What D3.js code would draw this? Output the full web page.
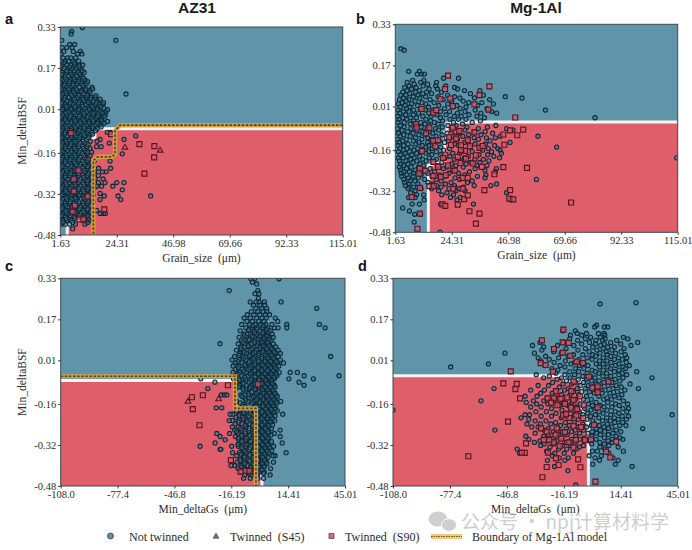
<!DOCTYPE html>
<html><head><meta charset="utf-8">
<script src="https://cdn.jsdelivr.net/npm/d3@7/dist/d3.min.js"></script>
<style>html,body{margin:0;padding:0;background:#fff}svg{display:block}</style></head>
<body><svg id="c" width="692" height="550"></svg>
<script>
const yTicks=[0.33,0.17,0.01,-0.16,-0.32,-0.48];
const yLabels=["0.33","0.17","0.01","-0.16","-0.32","-0.48"];
const grainTicks=[1.63,24.31,46.98,69.66,92.33,115.01];
const grainLabels=["1.63","24.31","46.98","69.66","92.33","115.01"];
const gsTicks=[-108,-77.4,-46.8,-16.19,14.41,45.01];
const gsLabels=["-108.0","-77.4","-46.8","-16.19","14.41","45.01"];
const legendLabels=["Not twinned","Twinned  (S45)","Twinned  (S90)","Boundary of Mg-1Al model"];

// red-region edges (first point to last point along the decision boundary)
const regionA=[[115.01,-.066],[15.5,-.066],[15.5,-.1],[10,-.11],[10,-.42],[4.4,-.44],[4.4,-.48]];
const regionB=[[115.01,-.05],[24.5,-.05],[22.4,-.055],[22.4,-.092],[21.4,-.092],[21.4,-.2],[14.9,-.22],[14.9,-.48]];
const regionC=[[-108,-.069],[-14,-.069],[-14,-.17],[-6,-.17],[-6,-.4],[.3,-.42],[.3,-.48]];
const regionD=[[-108,-.05],[-16,-.05],[-16,-.07],[-6.5,-.07],[-6.5,-.18],[-3,-.24],[-3,-.48]];
// Mg-1Al model boundary redrawn over the AZ31 panels
const boundaryA=[[115.01,-.052],[25.6,-.052],[23.6,-.075],[23.6,-.163],[22.4,-.176],[16.5,-.176],[14.9,-.19],[14.9,-.48]];
const boundaryC=[[-108,-.052],[-14.2,-.052],[-14.2,-.177],[-2.9,-.177],[-2.9,-.48]];

// not twinned: rows of [y, x...]
const circlesA=[
[.328,10.5],[.313,6.2],[.303,6],[.278,2.2,23.9],[.262,5.4,7.4],[.25,2.4,4.2,6.4],[.235,3,6.8,9.7],[.225,1.9,8.6,10.3],[.21,2.7,4.6,5.9,7.8],[.197,1.8,3.6,5,6.8,9],[.182,2.4,4.2,5.9,7.5,9.3,10.6],[.168,1.7,3.2,4.9,6.4,8.1,9.8],[.153,2.5,4.1,5.6,7.3,8.9,11.2],[.139,1.8,3.4,5,6.6,8.2,10],[.124,2.6,4.2,5.8,7.4,9.1,11.6],[.11,1.9,3.5,5.1,6.7,8.4,10,12.1],[.096,2.7,4.3,5.9,7.6,9.3,11,14.3],[.083,1.8,3.4,5,6.8,8.4,10.2,11.8,13.3],[.069,2.5,4.2,5.8,7.5,9.2,10.9,12.6,28],[.056,1.9,3.5,5.2,6.9,8.5,10.3,12,14,15.6],[.042,2.7,4.3,6,7.7,9.4,11.2,13,14.8,16.7],[.028,1.8,3.5,5.2,6.8,8.6,10.3,12.1,13.7,15.6,17.4,18.6],[.014,2.6,4.3,6,7.7,9.5,11.2,13,14.9,16.4,19.2],[.001,1.8,3.5,5.1,6.9,8.6,10.4,12.2,14,15.7,17.8,20],[-.012,2.7,4.4,6,7.8,9.5,11.3,13.1,14.8,16.8,18.7,19.7],[-.026,1.9,3.6,5.3,7,8.8,10.5,12.3,14.1,16,17.6],[-.038,2.6,4.3,6.1,7.8,9.6,11.4,13.2,14.9,16.9,18.5,20.6],[-.052,1.8,3.5,5.2,7,8.7,10.5,12.3,14,15.8,17.5],[-.066,2.6,4.4,6.1,7.9,9.6,11.4,13,14.9,16.4],[-.08,1.9,3.6,5.3,7.1,8.8,10.6,12.4,14.2,20.5,21.8],[-.094,2.7,4.4,6.2,7.9,9.7,11.5,13.3,31.9],[-.108,1.8,3.5,5.3,7,8.8,10.5,12.2,17.6,27.2],[-.122,2.6,4.3,6.1,7.8,9.6,11.4,21.3],[-.136,1.9,3.7,5.4,7.2,8.9,10.7,12.3,16.2,18],[-.15,2.7,4.4,6.2,8,9.7,11.5],[-.164,1.8,3.6,5.3,7.1,8.8,10.5,12.6,26.5],[-.178,2.6,4.3,6.1,7.9,9.6,11.4],[-.192,1.9,3.6,5.4,7.1,8.9,10.6,12.4,15.2,21.6],[-.206,2.7,4.5,6.2,8,9.8,11.5,13.2],[-.22,1.8,3.6,5.3,7.1,8.9,10.6,12.4,17,21.8],[-.234,2.6,4.4,6.1,7.9,9.7,11.4,13.3,15.4,20,18.6],[-.248,1.9,3.7,5.4,7.2,9,10.7,12.5,14.3,16.9],[-.262,2.7,4.5,6.2,8,9.8,11.5,13.3,15.6,18.8],[-.276,1.8,3.6,5.4,7.1,8.9,10.7,12.5,14.2,24.3,27.2,16.9,19.6],[-.29,2.6,4.4,6.2,7.9,9.7,11.5,13.2,16.2,18.2,22.7],[-.304,1.9,3.7,5.5,7.2,9,10.8,12.6,14.5,26.5],[-.318,2.7,4.5,6.3,8,9.8,11.6,13.4,17.6],[-.328,1.8,3.6,5.4,7.2,9,10.7,12.5,19.3,24.8,37.9],[-.342,2.7,4.4,6.2,8,9.8,11.6,13.3,17.6,25.9],[-.356,1.9,3.6,5.4,7.2,9,10.8,12.4],[-.37,2.7,4.5,6.3,8.1,9.9,11.7,13.4],[-.384,1.9,3.7,5.5,7.2,9,10.8,12.5,16.2],[-.396,2.6,4.4,6.2,8,9.8,11.6,13.3,17.6,18.9,19.7],[-.41,1.9,3.6,5.4,7.2,9,10.8,12.5],[-.424,2.5,4.3,6.1,12.2,13.4],[-.438,1.9,3.6,5.4,7.7,11.5],[-.456,6.6]];
// further not-twinned grains filling the dense cloud between the rows above
const circlesA2=[
[.19,3.1,7.3],[.175,1.9,5.4,9.1],[.16,4.2,7.2,10.4],[.146,2.2,6.1,9.4],[.131,3.6,7.1,10.9],[.117,1.7,5.4,8.9,12.6],[.103,3.2,6.8,10.7],[.089,2.1,5,8,11.9,14.6],[.076,3.9,7,10,13.6],[.063,1.9,6.2,9.1,12.4,15.9],[.049,3.3,7.2,10.8,13.9,17.6],[.035,2.2,5.6,9,12.9,16.2,19],[.021,4,7.4,10.6,14.4,17.9],[.008,2.5,6,9.1,13.2,16.6,20.6],[-.005,3.9,7.2,11,14.8,18.6],[-.019,2,5.6,9.3,12.7,16.6,19.4],[-.032,3.6,7.5,11,14.7,18.1],[-.045,2.4,6,9.6,13.1,16.6,19.2],[-.059,4,7.6,11.2,14.6,18],[-.073,2.1,5.7,9.3,12.9,15.8],[-.087,3.5,7.4,11.1,14.6],[-.101,2.3,6,9.4,12.9],[-.115,4,7.6,10.9,13.7,16.4],[-.129,2.2,5.8,9.2,12.8],[-.143,3.7,7.4,10.9,13.6],[-.157,2.4,6,9.2,12.6,14.2],[-.171,4,7.6,11,13.5],[-.185,2.1,5.6,9.1,12.9],[-.199,3.7,7.4,10.9,14.1],[-.213,2.4,6,9.4,12.7,14.6],[-.227,4.1,7.6,11.2,13.7],[-.241,2.1,5.8,9.1,13,15],[-.255,3.7,7.5,11,14.1],[-.269,2.3,6,9.4,12.6,14.8],[-.283,4,7.6,11,13.9],[-.297,2.2,5.6,9.1,12.8,15.2],[-.311,3.8,7.3,11,14],[-.324,2.3,6.1,9.3,12.9,14.9],[-.336,4,7.6,11,13.8],[-.35,2.1,5.7,9.2,12.9,14.8],[-.364,3.8,7.4,10.9,13.8],[-.378,2.4,6,9.4,12.6],[-.39,3.9,7.6,11,13.9],[-.404,2.2,5.7,9.3,12.7],[-.417,4,7.4,11,13],[-.431,2.7,6.6,12.6]];
const trianglesA=[[27.6,-.139],[41.7,-.151]];
const squaresA=[[33.4,-.126],[39.4,-.134],[39.3,-.178],[35.4,-.241],[22,-.087],[19.3,-.38],[5.9,-.083],[7,-.263],[7,-.31],[12.6,-.33],[7.5,-.365],[6.6,-.389],[9.3,-.419],[10.9,-.419],[8.9,-.229]];

const circlesB=[
[.235,3.9],[.229,5.2],[.147,7,11.3],[.136,10.5,12.2,13.3],[.12,27,21],[.112,8.6,13.1],[.104,6.4,11.8,18.2],[.097,9.2,14.6],[.09,7.2,12.8,17.9,21.9],[.084,5.4,10,25.4],[.078,8.1,15.2,18.5,26.6],[.072,6.3,11.3,35.6,29.4],[.066,4.6,9.8,14.2,20.2],[.06,7.4,12.7,16.2,31.8],[.054,3.8,5.9,10.8,22.6,37],[.048,8.9,13.8,18.8,25.4,45.8],[.043,4.9,11.5,27.6,33.4,52.5],[.037,3.3,7.1,15.6,20.9,39.5],[.031,6,9.6,24.3,28.9],[.025,4.3,12.4,17.2,31.1,36.4],[.02,2.9,8.2,13.9,22.7,41],[.014,5.6,10.6,19.1,26.3,34.7],[.008,3.6,7.5,15,24.8,30],[.002,6.2,11.7,21.4,27.7,38.4],[-.004,2.7,9,13.6,16.9,33.7,61.9],[-.01,4.9,7.1,19.8,23.4,29.6,40.3],[-.016,3.4,11,15.1,26.6,36,42.3],[-.022,5.8,8.9,18.3,22,31.2],[-.028,2.6,12.7,16,25.3,28.1,34.4],[-.034,4.6,7.6,10.1,19.8,37.4,81.8],[-.04,3.2,6.3,13.9,23.6,27,30],[-.046,9,15.8,20.6,35.8],[-.052,2.7,5.2,11.8,17.3,25,32.5],[-.058,7.6,13.6,18.8,28.6],[-.064,3.6,9.9,15.1,22.8,26,42],[-.07,5.2,12,20.5,30.4,38.6],[-.076,2.5,7.9,14.4,17.8,35,46.3],[-.082,4.4,10.3,19,24.3,29.6,48.9],[-.088,6.6,12.7,15.3,33.4,37.7],[-.094,2.9,8.8,16.6,22.4,27.1,40.7],[-.1,5,11.1,13.6,20.4,31.1,36],[-.106,3.6,7.6,18,24.7,28.7,43.8,58.9],[-.112,9.8,14.7,22,33.3,38.2,41.8],[-.118,2.6,6,12.3,16,26.6,35],[-.124,4.6,8.9,19.3,23,31,39.7],[-.13,3.2,11,14.6,21.4,29.4,47.7],[-.136,6.7,9.9,17.3,25.4,33.6,37.8],[-.142,2.7,5,12.5,15.1,27,41.5],[-.148,8,13.9,19.9,31.4,35.7,66.4],[-.154,3.5,6.3,10.6,16.5,23.4,39,42.8],[-.16,4.9,9.1,12.4,21,28.7,36.7,43.7],[-.166,2.9,7.4,15,18.1,32.5,40.3],[-.172,5.6,10.2,13.9,24.7,27.5,44.2],[-.178,3.6,8.3,16.3,19.8,35.2,38.7],[-.184,6.4,11.4,23.5,31,41.2],[-.19,2.8,4.8,9.2,15.3,21.6,29.4,43.5,114.6],[-.196,7.9,12.6,18.2,25.3,33.6,37],[-.202,3.3,5.9,10.2,14,27.8,39.2],[-.208,8.8,16.9,20.3,32,35.6],[-.214,3.9,6.7,11.6,24.2,30],[-.22,5,13,18.6,26,34.4,38.4],[-.226,3.2,8,10.9,22.3,28.9],[-.232,6.1,15.6,20.9,33.7,42.2],[-.238,3.8,9.6,13.3,24.7,37.6],[-.244,5,7.3,11.9,17.4,31.4,41.8],[-.25,4,9,14.7,23.2,27],[-.256,6.3,12,19.4,29.5,38],[-.262,4.2,8.8,16.4,21.7,34.6],[-.268,6.9,10.9,25.6,37.6],[-.274,5,13.4,18.1,27.5,58.3],[-.28,7.6,9.5,20,32.5],[-.286,5.4,14.7,24,30.6],[-.292,7.2,10.7,16.6,21.8,42.3],[-.298,5.6,18.2,25.4,33.3,40],[-.304,9,7.3,20,29],[-.31,6.8,12,16.2,23.2,27.2],[-.318,9.6,19,26,29.6],[-.326,7.8,22.4,46.3],[-.334,10.2,13,20.3,25],[-.344,7,9.6,23.8,27.7],[-.354,13.2,26.4,48],[-.37,8.4,11.3,19.8,33],[-.385,4.6],[-.397,7.3],[-.41,9.4,11.8],[-.44,9.2],[-.479,19.6]];
const trianglesB=[];
const squaresB=[[22.8,.13],[21.6,.078],[39.4,.088],[35.4,.054],[33.4,.018],[39,-.002],[49.8,-.033],[53,-.08],[50.6,-.102],[47.7,-.083],[45,-.099],[45.4,-.139],[54.5,-.229],[45,-.226],[41.4,-.254],[36.4,-.225],[47.7,-.316],[47.4,-.349],[49,-.352],[37.4,-.316],[72.2,-.364],[31.4,-.398],[35.4,-.407],[34,-.446],[20.6,-.371],[21.7,-.377],[26.7,-.372],[11.5,-.407],[10.5,-.466],[8.2,-.343],[11.5,-.307],[29.3,-.351],[30.7,-.336],[12.2,0],[16.9,-.015],[18,-.004],[19.7,.038],[23.7,.041],[24.7,.012],[9.9,-.059],[10.2,-.072],[14,-.095],[15.3,-.073],[16.9,-.124],[18.7,-.121],[17.7,-.145],[21.7,-.18],[12.3,-.164],[11.5,-.232],[11.3,-.251],[13.7,-.241],[16.9,-.206],[16.9,-.26],[15.3,-.3],[17,-.3],[19.9,-.264],[21.9,-.258],[24.9,-.31],[28.7,-.31],[30.7,-.268],[28.7,-.268],[26,-.115],[28,-.141],[30.7,-.121],[33.4,-.091],[35.4,-.151],[36.7,-.144],[26,-.088],[27.3,-.086],[24.7,-.073],[29.6,-.163],[28,-.16],[26.7,-.186],[30,-.193],[34,-.18],[32.7,-.212],[22.8,-.22],[25.5,-.24],[18.8,-.225],[20.8,-.19],[24,-.14],[23.2,-.11],[31.6,-.145],[27.8,-.21]];

const circlesC=[
[.328,-5.6,-3.7,9.5],[.315,-4.8],[.308,-2.5],[.282,-17.3,-1.9],[.27,-3.4,-1.4],[.252,-1.6],[.238,-2.8,-6,-1.2,1.6,10.6],[.225,-4.2,-.8,1.8],[.213,-3,.2,2.8,29.8],[.2,-5.4,-1.9,1,3],[.188,-7.6,-4,-.9,2.2,4.4],[.175,-9.3,-6,-2.6,.4,2.6,7.5],[.162,-7.8,-4.9,-1.4,1.4,8.8],[.15,-10.6,-6.3,-3.4,-.4,2.4,5.7,13.7,31.2],[.137,-8.4,-5.2,-2.2,.9,3.4,7,9,13.7,34.3],[.125,-11.4,-7,-3.8,-1,2,4.8],[.112,-9.4,-5.8,-2.7,.5,3,5.8],[.1,-12,-8,-4.6,-1.4,1.6,4.2,6.4],[.087,-10.6,-6.8,-3.5,-.3,2.6,5.2],[.075,-12.4,-8.8,-5.2,-2,1.2,3.8,6.4,-22.3],[.062,-11,-7.2,-4,-.8,2.2,5,7.8],[.05,-13.4,-9.6,-6,-2.6,.6,3.6,6.4,9],[.037,-11.6,-8,-4.4,-1.2,2.2,5,8,10.2],[.025,-14.4,-10.4,-6.6,-3,.2,3.4,6.2,9,37.3],[.012,-15.8,-12,-8.4,-5,-1.6,1.8,4.6,7.4,10.2],[0,-14,-10.4,-7,-3.4,-.2,3,6,8.8,11.9],[-.012,-15.2,-12,-8.4,-5,-1.8,1.6,4.6,7.2,9.4],[-.025,-14,-10.4,-6.8,-3.4,0,3.2,5.8,8.2],[-.037,-15.2,-11.8,-8.2,-5,-1.4,1.6,4.6,7.4,9.6,19.4,15.5],[-.05,-14.2,-10.6,-7,-3.4,-.2,3,5.8,8.4,23,41.8],[-.062,-15,-12,-8.4,-5,-1.6,1.6,4.4,7,14.8,28,-32.6],[-.075,-13.4,-10,-6.4,-3,0,2.8,5.4,20.3,-25],[-.087,-11.8,-8.2,-5,-1.6,1.4,4.2,7,23],[-.1,-13.8,-10,-6.4,-3.2,-.2,2.8,5.6,-28.8],[-.112,-8.4,-5,-1.8,1.2,4,6.6],[-.125,-11,-6.8,-3.4,-.4,2.6,5.2,7.8,-21.6,-20,-18.6],[-.137,-9,-5.2,-2,.8,3.6,6.4],[-.15,-13.4,-7.4,-3.8,-.8,2.2,5,7.8,10.4],[-.162,-10,-5.6,-2.4,.6,3.4,6.2],[-.175,-11.6,-8,-4,-1,2,4.8,7.6,-21.3,-24.3],[-.187,-13.4,-9.8,-6,-2.6,.4,3.2,6,8.6],[-.2,-15.4,-12,-8,-4.4,-1.2,1.8,4.6,11.5,-16.8],[-.212,-13.6,-10,-6.4,-3,.2,3,5.8],[-.225,-15.6,-12,-8,-4.6,-1.4,1.6,4.4,7.2,-17.3],[-.237,-14,-10.4,-6.4,-3,0,3],[-.25,-12.4,-8.4,-4.8,-1.4,1.4,4.2,-15.6],[-.262,-14.4,-10.6,-6.8,-3.2,-.4,2.6,10.1],[-.275,-12.4,-8.6,-5,-1.6,1.2,4,7,-17.1,-24],[-.287,-14,-10.6,-6.8,-3.2,-.2,2.6,10.1,-22.2],[-.3,-12.2,-8.4,-5,-1.6,1.4,4,-19.5],[-.312,-10,-6.8,-3.2,-.2,2.6,11.2,-24.9],[-.325,-12.4,-8.4,-5,-1.6,1.2,4,6.6,-16,-33],[-.337,-10,-6.6,-3,0,2.6,-22.2,-21.8],[-.35,-11.8,-8,-4.6,-1.4,1.2,4,-15.5,13.3],[-.362,-13.4,-9.4,-6.2,-3,0,2.6,7.4,6.4],[-.375,-11.4,-7.6,-4.6,-1.4,1.4],[-.387,-13,-9,-6,-2.8,0,2.8,6.5],[-.4,-14.4,-11,-7.4,-4.2,-1.2,1.4,-16.3],[-.412,-12.4,-9.4,-6,-2.6,0,5],[-.425,-10.6,-7.4,-4.2,-1.2,1.6],[-.437,-9,-5.6,-2.6,4.7],[-.45,-9.6,-6,-1.8,1.2]];
// further not-twinned grains filling the dense cloud between the rows above
const circlesC2=[
[.145,-4.6,1],[.13,-6.8,-2.4,2.8],[.118,-3.6,.8,3.8],[.105,-9,-5,-.6,3],[.092,-6.6,-1.8,1.2,4.2],[.08,-9.8,-3.8,.4,3.4],[.067,-7,-2.4,1,4.2],[.055,-11,-5,-.8,2.8,5.4],[.042,-9.2,-3.4,.8,4,7],[.03,-12,-6.2,-1.6,2.2,5.4],[.018,-9.6,-4,.2,3.4,6.6],[.005,-12.6,-6.4,-1.4,2,5,8],[-.007,-9,-3.6,.6,3.6,6.8],[-.019,-12.4,-6,-1.8,1.8,5,7.4],[-.031,-9.4,-3.6,.4,3.4,6.4],[-.043,-12.6,-6,-1.6,2,5.4,8],[-.055,-9,-3.4,.8,4,6.8],[-.068,-11.8,-5.6,-1.2,2.4,5.6],[-.081,-9.6,-3.6,.4,3.4,6],[-.094,-12.2,-6,-1.2,2,4.8,7.4],[-.106,-9.6,-3.4,.6,3.4,6.4],[-.118,-7,-2.8,1,4.4,7.4],[-.131,-10.4,-4.2,-.4,3,5.6,8.6],[-.144,-8.4,-2.6,1,4.2,6.8],[-.156,-11.4,-5,-1,2.6,5.4,8.4],[-.169,-8.8,-3.2,.8,3.8,6.6],[-.181,-11,-5.6,-1.4,2.4,5.4,7.4],[-.194,-9.4,-3.6,.4,3.6,6.8],[-.206,-12,-7,-1.8,1.6,4.8,7.4],[-.219,-9.6,-5,.4,3.2,5.8],[-.231,-12.4,-7.6,-1.6,1.8,5],[-.243,-8.8,-4.8,.4,3.8,6],[-.256,-11.4,-6.6,-1.6,2.2,5.4],[-.268,-13.4,-8.8,-4,.4,3.6],[-.281,-10.6,-6.2,-1.4,2,5.2],[-.293,-12.4,-8,-3.6,.6,3.6],[-.306,-10.6,-5.8,-1,2.4,5.4],[-.318,-12.6,-8,-3.8,.6,3.4],[-.331,-10.6,-6,-1.4,2,4.6],[-.343,-9,-4.4,.4,3.2,5.6],[-.356,-11,-6.4,-1.6,1.8],[-.368,-9,-4.2,.8,3.6],[-.381,-11.4,-6.6,-1.4,1.8],[-.393,-9,-4.6,.6,3],[-.406,-10.6,-5.8,-1.4,1.6],[-.418,-8.6,-3.6,.4],[-.431,-6.6,-2,1.2]];
const trianglesC=[[-39.5,-.151],[-23,-.141]];
const squaresC=[[-37.4,-.134],[-31.5,-.126],[-36.9,-.18],[-33.3,-.243],[-18,-.087],[-1.9,-.083],[-16.4,-.379],[-8.7,-.421],[-6.4,-.421],[-11.2,-.424],[-2.4,-.379]];

const circlesD=[
[.235,22.6],[.23,3.3],[.147,-4.6,1.4],[.14,7.4,5.6,.4],[.125,-16.8,-10],[.115,-9,-4,2.4,5.4],[.108,-6.6,-12.6,5.8],[.1,-1.8,3.4,15.8],[.094,-13,-4.6,6,18.2],[.088,-8.8,1,4.6,12.2],[.08,-29,-16.4,-2.4,9,23.5],[.074,-6.6,.8,5.6,14.4],[.068,-33,-19.6,-10.8,3.6,19.9],[.062,-27,-.6,7.4,11],[.056,-4.6,-15,5,16.2],[.05,-28,-8.6,1.6,9.6],[.044,-21.6,-2.6,14.6,6.6],[.038,-47.8,-32,-17.6,3.2,11.6],[.032,-11,-6,-.8,7.2,16.8],[.026,-26,-13.8,1,9],[.02,-30,-19,-3.6,5,13.2,17.6],[.014,-24,-8,-1,11,15.2],[.008,-28.6,-15.4,3,7],[.002,-21.4,-10.4,-5.4,9.2,17.4],[-.004,-56.7,-12.4,1.2,5,13.4],[-.01,-26.2,-18.2,-7.8,-3.2,11.6,19],[-.016,-77,-15.6,3,7.4,15.6],[-.022,-22.6,-10,-5.4,9,17],[-.028,-19.4,-1,13.4,5],[-.034,-13,-8.2,.8,11,23],[-.04,-20.4,-3.6,2.6,6.8,15.2],[-.046,-31,-15.6,-10.4,13.4,17.6],[-.052,-24,-6,-1.8,9,4.8],[-.058,-27,-17.4,-12.8,.6,15.6,31.2],[-.064,-19.8,-8.4,-4,7.2,11.4],[-.07,-14.8,-1.2,2.8,14],[-.076,-22.2,-10,-5.6,9.6,5.4],[-.082,-16.6,-12,1,19.4],[-.088,-30,-24.4,-7.4,-3,7.6,12],[-.094,-18.6,-.6,3.6,14.6],[-.1,-53.7,-13.8,-9,-4.8,10.2,23.9],[-.106,-34,-26.6,-15.8,1.8,6,16.6],[-.112,-20.6,-11,-6.6,-2.4,12.6],[-.118,-28.6,-22.4,.2,8.6,4.4],[-.124,-17.4,-12.8,-8.2,15],[-.13,-37,-30.6,-4,2.6,11],[-.136,-25,-19.6,-14.6,7,13.4],[-.142,-10,-5.6,-1.4,5.2,9.4],[-.148,-60.7,-32.6,-27,-21.4,15.8],[-.154,-36.4,-16.6,-11.8,1.2,7.4],[-.16,-30.8,-24.8,-7.4,-3,11.6,18],[-.166,-18.6,-14,-.8,3.4,13.6],[-.172,-34,-28.4,-9.4,5.4,9.6],[-.178,-22.8,-5,1,15.6,18.6],[-.184,-108,-17.2,-12.4,-1.6,7],[-.19,-31.2,-25.6,-7.8,2.8,11.4,17.6],[-.196,-20.4,-15,-3.4,5,13.4],[-.202,-37,-34.6,-10.6,-6,.8,9,42],[-.208,-28.4,-22.8,-1.8,15.2,18.6],[-.214,-39.2,-17.6,-12.8,2.6,6.8,11],[-.22,-35,-8.4,-3.8,13,17.4],[-.226,-31.6,-25.8,-.6,4.6,8.8],[-.232,-20.6,-15.4,-10.6,15.4,11.2],[-.238,-36,-28.8,-23.2,-6,.4,7.2],[-.244,-18,-13.2,-1.4,2.8,13.8,17.2],[-.25,-33.4,-30,-8.6,-4,5.4,9.6],[-.256,-24.6,-19.4,-14.8,1.2,7.8,26.2],[-.262,-53.2,-27,-10,-5.6,3.4,12],[-.268,-21.8,-17,-12,-1,5.8,14.4],[-.274,-31.6,-7.6,-3.2,1.4,10.2],[-.28,-24.6,-19.2,-14.4,7.8,3.4],[-.286,-36.6,-27,-9.8,-1.2,12],[-.292,-22,-17.2,-5.2,5.6,14],[-.298,-35,-12.2,-7.6,1.2,9.8,15.5],[-.304,-29,-24.6,-19.8,-3,7.6],[-.31,-32,-15,-10,3.2,9.8],[-.316,-26.8,-21.6,-1.2,5.6],[-.322,-28.6,-17,-12.6,-5.6,8],[-.328,-23.6,-7.8,3.2,13],[-.336,-41.3,-19,-14.6,-9.4,5.8],[-.344,-25.4,-.8,1.8,15.8],[-.352,-40,-21,-16,-11,8],[-.362,-22.4,-2.6,4],[-.37,-18.6,-13.8,.6,10.2],[-.38,-25,-15.6,3,13],[-.395,11.5,-.6],[-.404,20.5,-21.2],[-.42,-14],[-.476,-9.8]];
const trianglesD=[];
const squaresD=[[-67.5,-.364],[-28,.088],[-16.4,.13],[-21.5,.054],[-44.7,-.033],[-48.7,-.08],[-41.5,-.082],[-42.2,-.102],[-39.7,-.138],[-46.2,-.229],[-36.5,-.314],[-37.2,-.351],[-38.8,-.35],[-27.7,-.446],[-25.4,-.406],[-24.7,-.35],[-20.4,-.372],[-19,-.398],[-8.5,-.376],[-7.3,-.407],[.8,-.463],[8.8,-.369],[6.5,-.346],[11.9,-.307],[-1.6,-.298],[0,-.242],[-28.4,-.255],[-25.4,-.268],[-27,-.3],[-22,-.034],[-28.6,-.001],[-26,-.008],[-16.8,.08],[-13.6,.078],[-16.8,.04],[-12.7,.028],[-9.3,.005],[-6,-.001],[-2.8,-.054],[7.8,-.073],[2,-.092],[-1,-.097],[2,-.115],[2,-.174],[-10.9,-.073],[-24.9,-.138],[-21.4,-.138],[-18,-.14],[-14.4,-.135],[-11,-.145],[-7.6,-.13],[-23,-.155],[-19.6,-.165],[-15.6,-.16],[-12.4,-.175],[-9,-.18],[-5.4,-.165],[-16.6,-.205],[-13.2,-.215],[-9.6,-.205],[-5.8,-.215],[-11,-.245],[-7,-.25],[-15.6,-.27],[-20.6,-.28],[-17.6,-.295],[-21.6,-.31],[-13.6,-.31],[-9.8,-.3],[-4.8,-.3],[-18.4,-.325],[-11,-.33],[-15,-.2],[-20.4,-.11],[-12.2,-.11],[-24,-.3],[-20,-.255]];

const panels=[
 {letter:"a",lx:5,ly:24,title:"AZ31",tx:197,ty:13,box:[60.3,342.7,27,235],xDomain:[1.63,115.01],xTicks:grainTicks,xLabels:grainLabels,xName:"Grain_size  (μm)",yName:true,region:regionA,closeBy:[[115.01,-.48]],boundary:boundaryA,rows:circlesA.concat(circlesA2),tri:trianglesA,sq:squaresA},
 {letter:"b",lx:356,ly:24,title:"Mg-1Al",tx:536,ty:13,box:[395.3,677.7,24.3,232.3],xDomain:[1.63,115.01],xTicks:grainTicks,xLabels:grainLabels,xName:"Grain_size  (μm)",yName:false,region:regionB,closeBy:[[115.01,-.48]],boundary:null,rows:circlesB,tri:trianglesB,sq:squaresB},
 {letter:"c",lx:5,ly:271,title:null,box:[60.7,345,278.3,486],xDomain:[-108,45.01],xTicks:gsTicks,xLabels:gsLabels,xName:"Min_deltaGs  (μm)",yName:true,region:regionC,closeBy:[[-108,-.48]],boundary:boundaryC,rows:circlesC.concat(circlesC2),tri:trianglesC,sq:squaresC},
 {letter:"d",lx:358,ly:271,title:null,box:[393,677.7,278.3,486],xDomain:[-108,45.01],xTicks:gsTicks,xLabels:gsLabels,xName:"Min_deltaGs  (μm)",yName:false,region:regionD,closeBy:[[-108,-.48]],boundary:null,rows:circlesD,tri:trianglesD,sq:squaresD}
];

const BLUE="#6094a8",RED="#de5f6b",SERIF="'Liberation Serif',serif",SANS="'Liberation Sans',sans-serif",INK="#2b2b2b";
const svg=d3.select("#c");
const defs=svg.append("defs");
const line=d3.line();
const tri=d3.symbol().type(d3.symbolTriangle).size(14)();
const sq=d3.symbol().type(d3.symbolSquare).size(25)();

function drawBoundary(g,d){
  g.append("path").attr("d",d).attr("fill","none").attr("stroke","#d6a03c").attr("stroke-width",4.2);
  g.append("path").attr("d",d).attr("fill","none").attr("stroke","#4c4326").attr("stroke-width",1.7).attr("stroke-dasharray","2.6,1.5");
}

panels.forEach((p,i)=>{
  const [x0,x1,y0,y1]=p.box;
  const x=d3.scaleLinear().domain(p.xDomain).range([x0,x1]);
  const y=d3.scaleLinear().domain([-.48,.33]).range([y1,y0]);
  const pt=d=>[x(d[0]),y(d[1])];
  const g=svg.append("g");
  const id="clip"+i;
  defs.append("clipPath").attr("id",id).append("rect").attr("x",x0).attr("y",y0).attr("width",x1-x0).attr("height",y1-y0);
  g.append("rect").attr("x",x0).attr("y",y0).attr("width",x1-x0).attr("height",y1-y0).attr("fill",BLUE);
  const inner=g.append("g").attr("clip-path",`url(#${id})`);
  const edge=p.region.map(pt);
  inner.append("path").attr("d",line(edge.concat(p.closeBy.map(pt)))+"Z").attr("fill",RED);
  inner.append("path").attr("d",line(edge)).attr("fill","none").attr("stroke","#f6f3f3").attr("stroke-width",3);
  const circles=p.rows.flatMap(r=>r.slice(1).map(v=>[v,r[0]]));
  inner.append("g").selectAll("circle").data(circles).join("circle")
    .attr("cx",d=>x(d[0])).attr("cy",d=>y(d[1])).attr("r",2.1)
    .attr("fill","#2a7a9a").attr("fill-opacity",.42).attr("stroke","#102a38").attr("stroke-width",1.1);
  inner.append("g").selectAll("path").data(p.tri).join("path").attr("d",tri)
    .attr("transform",d=>`translate(${x(d[0])},${y(d[1])})`)
    .attr("fill","#c9606f").attr("fill-opacity",.65).attr("stroke","#5e1220").attr("stroke-width",1.1);
  inner.append("g").selectAll("path").data(p.sq).join("path").attr("d",sq)
    .attr("transform",d=>`translate(${x(d[0])},${y(d[1])})`)
    .attr("fill","#c9606f").attr("fill-opacity",.7).attr("stroke","#5e1220").attr("stroke-width",1.15);
  if(p.boundary) drawBoundary(inner,line(p.boundary.map(pt)));
  g.append("rect").attr("x",x0).attr("y",y0).attr("width",x1-x0).attr("height",y1-y0).attr("fill","none").attr("stroke","#3c4a52").attr("stroke-width",1);
  const ax=g.append("g").attr("transform",`translate(0,${y1})`)
    .call(d3.axisBottom(x).tickValues(p.xTicks).tickFormat((d,k)=>p.xLabels[k]).tickSize(2.5).tickPadding(2));
  const ay=g.append("g").attr("transform",`translate(${x0},0)`)
    .call(d3.axisLeft(y).tickValues(yTicks).tickFormat((d,k)=>yLabels[k]).tickSize(2.5).tickPadding(2));
  [ax,ay].forEach(a=>{a.select(".domain").remove();
    a.selectAll("text").attr("font-family",SERIF).attr("font-size",10.5).attr("fill",INK);
    a.selectAll("line").attr("stroke","#333");});
  g.append("text").attr("x",(x0+x1)/2).attr("y",y1+27).attr("text-anchor","middle").attr("font-family",SERIF).attr("font-size",11.5).attr("fill",INK).style("white-space","pre").text(p.xName);
  if(p.yName) g.append("text").attr("transform",`translate(26,${(y0+y1)/2}) rotate(-90)`).attr("text-anchor","middle").attr("font-family",SERIF).attr("font-size",11.5).attr("fill",INK).text("Min_deltaBSF");
  if(p.title) svg.append("text").attr("x",p.tx).attr("y",p.ty).attr("text-anchor","middle").attr("font-family",SANS).attr("font-weight","bold").attr("font-size",15.5).attr("fill","#1a1a1a").text(p.title);
  svg.append("text").attr("x",p.lx).attr("y",p.ly).attr("font-family",SANS).attr("font-weight","bold").attr("font-size",14.5).attr("fill","#111").text(p.letter);
});

// watermark
const wm=svg.append("g").attr("fill","#cfcfcf");
wm.append("ellipse").attr("cx",438).attr("cy",519).attr("rx",9.5).attr("ry",7.5);
wm.append("ellipse").attr("cx",449).attr("cy",525).attr("rx",7.5).attr("ry",6.3).attr("stroke","#fff").attr("stroke-width",1);
wm.append("text").attr("x",461).attr("y",529).attr("font-family","'Noto Sans CJK SC',sans-serif").attr("font-size",19).text("公众号 · npj计算材料学");

// legend
const leg=svg.append("g");
const ly=537;
leg.append("circle").attr("cx",110.5).attr("cy",ly-1).attr("r",3).attr("fill","#6f8d9e").attr("stroke","#34444f").attr("stroke-width",.8);
leg.append("path").attr("d",tri).attr("transform",`translate(216,${ly-.5})`).attr("fill","#8d6a78").attr("stroke","#5a3040").attr("stroke-width",.7);
leg.append("path").attr("d",sq).attr("transform",`translate(331.5,${ly-1})`).attr("fill","#c9707a").attr("stroke","#7a3a44").attr("stroke-width",.8);
leg.append("rect").attr("x",431).attr("y",ly-3).attr("width",31).attr("height",5).attr("fill","#f0c878");
leg.append("line").attr("x1",431).attr("x2",462).attr("y1",ly-.5).attr("y2",ly-.5).attr("stroke","#6a5a30").attr("stroke-width",1.2).attr("stroke-dasharray","1.5,1");
const legX=[129,230,345,472];
legendLabels.forEach((t,k)=>leg.append("text").attr("x",legX[k]).attr("y",ly+4).attr("font-family",SERIF).attr("font-size",12).attr("fill",INK).style("white-space","pre").text(t));
</script></body></html>
